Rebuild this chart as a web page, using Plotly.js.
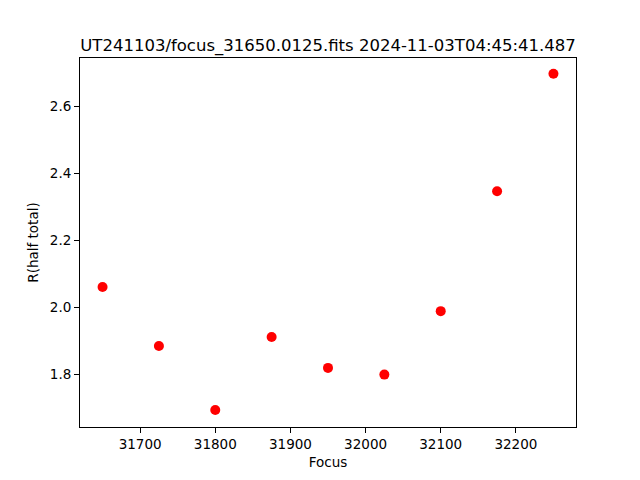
<!DOCTYPE html>
<html>
<head>
<meta charset="utf-8">
<script src="https://cdn.plot.ly/plotly-3.0.1.min.js"></script>
<style>html,body{margin:0;padding:0;background:#fff;}#chart{width:640px;height:480px;}</style>
</head>
<body>
<div id="chart"></div>
<script>
var focus = [31650, 31725, 31800, 31875, 31950, 32025, 32100, 32175, 32250];
var rHalf = [2.060, 1.884, 1.693, 1.911, 1.8185, 1.7985, 1.988, 2.346, 2.697];
var xTicks = [31700, 31800, 31900, 32000, 32100, 32200];
var yTicks = [1.8, 2.0, 2.2, 2.4, 2.6];
var titleText = "UT241103/focus_31650.0125.fits 2024-11-03T04:45:41.487";

var font = "DejaVu Sans, sans-serif";
var trace = {
  x: focus, y: rHalf, type: "scatter", mode: "markers",
  marker: {color: "#ff0000", size: 10, line: {width: 0}}
};
var axisCommon = {
  showgrid: false, zeroline: false, showline: true, linecolor: "#000", linewidth: 1,
  mirror: true, ticks: "outside", ticklen: 5, tickwidth: 1, tickcolor: "#000",
  tickfont: {family: font, size: 13.5, color: "#000"}
};
var layout = {
  width: 640, height: 480,
  margin: {l: 80, r: 64, t: 58, b: 53},
  paper_bgcolor: "#fff", plot_bgcolor: "#fff",
  showlegend: false,
  title: {text: titleText, font: {family: font, size: 16.5, color: "#000"},
          x: 0.5, xref: "paper", y: 1, yref: "paper", yanchor: "bottom", pad: {b: 7}},
  xaxis: Object.assign({}, axisCommon, {
    range: [31620, 32280], tickvals: xTicks, ticktext: xTicks.map(String),
    title: {text: "Focus", font: {family: font, size: 13.5, color: "#000"}, standoff: 6}
  }),
  yaxis: Object.assign({}, axisCommon, {
    range: [1.642, 2.744], tickvals: yTicks, ticktext: yTicks.map(function(v){return v.toFixed(1);}),
    title: {text: "R(half total)", font: {family: font, size: 13.5, color: "#000"}, standoff: 8}
  })
};
Plotly.newPlot("chart", [trace], layout, {displayModeBar: false, staticPlot: true});
</script>
</body>
</html>
